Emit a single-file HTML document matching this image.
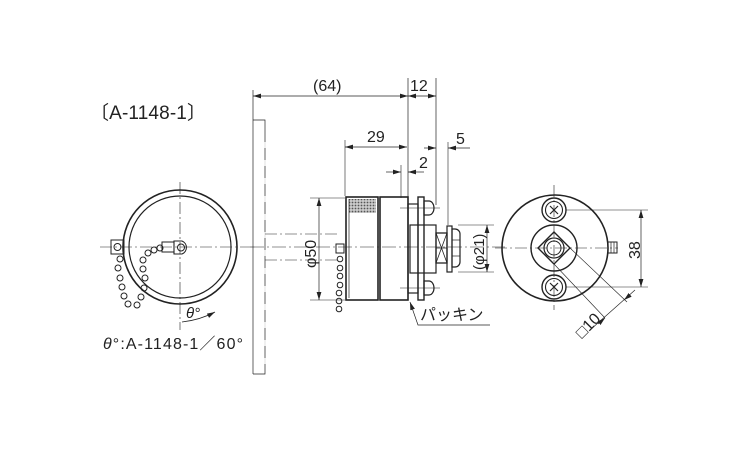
<!DOCTYPE html>
<html><head><meta charset="utf-8"><style>
html,body{margin:0;padding:0;background:#fff;}
svg{display:block;}
text{font-family:"Liberation Sans","Noto Sans CJK JP",sans-serif;fill:#222;}
</style></head><body>
<svg width="750" height="450" viewBox="0 0 750 450" xmlns="http://www.w3.org/2000/svg">
<defs>
<marker id="a" viewBox="0 0 10 6" refX="10" refY="3" markerWidth="8" markerHeight="5" orient="auto-start-reverse" markerUnits="userSpaceOnUse"><path d="M0,0L10,3L0,6z" fill="#222"/></marker>
<pattern id="dot" width="3" height="3" patternUnits="userSpaceOnUse"><rect width="3" height="3" fill="#ccc"/><circle cx="1.5" cy="1.5" r="0.9" fill="#555"/></pattern>
</defs>
<g stroke="#222" fill="none" stroke-width="1">
<text x="90" y="119" font-size="19" stroke="none" textLength="116">〔A-1148-1〕</text>

<!-- LEFT VIEW -->
<line x1="100" y1="247" x2="250" y2="247" stroke-width="0.6" stroke-dasharray="12 3 2 3"/>
<line x1="180" y1="182" x2="180" y2="330" stroke-width="0.6" stroke-dasharray="12 3 2 3"/>
<circle cx="180" cy="247" r="57" stroke-width="1.6"/>
<circle cx="180" cy="247" r="51" stroke-width="1.2"/>
<rect x="111" y="240" width="13" height="14" stroke-width="1"/>
<circle cx="117.5" cy="247" r="3.5"/>
<rect x="162" y="242" width="12" height="10"/>
<path d="M174,241 h8 a7,7 0 0 1 0,13 h-8z" stroke-width="1.1"/>
<circle cx="181" cy="247.5" r="3.5"/>
<g stroke-width="1">
<circle cx="120" cy="259" r="3"/><circle cx="118" cy="268" r="3"/><circle cx="120" cy="278" r="3"/><circle cx="122" cy="287" r="3"/><circle cx="124" cy="296" r="3"/><circle cx="128" cy="304" r="3"/><circle cx="137" cy="305" r="3"/><circle cx="141" cy="297" r="3"/><circle cx="144" cy="288" r="3"/><circle cx="145" cy="278" r="3"/><circle cx="143" cy="269" r="3"/><circle cx="143" cy="260" r="3"/><circle cx="148" cy="253" r="3"/><circle cx="154" cy="250" r="3"/><circle cx="160" cy="248" r="3"/>
</g>
<path d="M182,322 Q200,320 215,312" marker-end="url(#a)" stroke-width="0.8"/>
<text x="186" y="318" font-size="15" font-style="italic" stroke="none">θ°</text>
<text x="103" y="349" font-size="16" stroke="none" textLength="140"><tspan font-style="italic">θ</tspan>°:A-1148-1／60°</text>

<!-- WALL -->
<line x1="253" y1="90" x2="253" y2="374" stroke-width="0.7"/>
<polyline points="253,120 265,120 265,374 253,374" stroke-width="0.7"/>
<line x1="265" y1="130" x2="265" y2="370" stroke="#fff" stroke-width="0.8" stroke-dasharray="0 12 6 0"/>
<line x1="265" y1="234" x2="340" y2="234" stroke-width="0.6" stroke-dasharray="12 3 2 3"/>
<line x1="265" y1="260" x2="340" y2="260" stroke-width="0.6" stroke-dasharray="12 3 2 3"/>
<line x1="250" y1="247" x2="505" y2="247" stroke-width="0.6" stroke-dasharray="14 3 2 3"/>

<!-- dims top -->
<line x1="253" y1="96" x2="408" y2="96" stroke-width="0.7" marker-start="url(#a)" marker-end="url(#a)"/>
<line x1="408" y1="96" x2="436" y2="96" stroke-width="0.7" marker-start="url(#a)" marker-end="url(#a)"/>
<text x="313" y="91" font-size="16" stroke="none">(64)</text>
<text x="410" y="91" font-size="16" stroke="none">12</text>
<line x1="408" y1="78" x2="408" y2="300" stroke-width="0.7"/>
<line x1="436" y1="78" x2="436" y2="205" stroke-width="0.7"/>
<line x1="345" y1="140" x2="345" y2="196" stroke-width="0.6"/>
<line x1="345" y1="147" x2="407" y2="147" stroke-width="0.7" marker-start="url(#a)" marker-end="url(#a)"/>
<text x="367" y="142" font-size="16" stroke="none">29</text>
<line x1="401" y1="165" x2="401" y2="198" stroke-width="0.6"/>
<line x1="386" y1="172" x2="401" y2="172" stroke-width="0.7" marker-end="url(#a)"/>
<line x1="424" y1="172" x2="408" y2="172" stroke-width="0.7" marker-end="url(#a)"/>
<text x="419" y="168" font-size="16" stroke="none">2</text>
<line x1="448" y1="142" x2="448" y2="225" stroke-width="0.6"/>
<line x1="424" y1="148" x2="436" y2="148" stroke-width="0.7" marker-end="url(#a)"/>
<line x1="470" y1="148" x2="448" y2="148" stroke-width="0.7" marker-end="url(#a)"/>
<text x="456" y="144" font-size="16" stroke="none">5</text>

<!-- body -->
<rect x="346" y="197" width="32" height="103" stroke-width="1.6"/>
<rect x="349" y="199" width="27" height="14" fill="url(#dot)" stroke="none"/>
<line x1="349" y1="199" x2="349" y2="298" stroke-width="0.7"/>
<rect x="380" y="197" width="28" height="103" stroke-width="1.6"/>
<rect x="408" y="204" width="10" height="89" stroke-width="1.2"/>
<rect x="418" y="197" width="6" height="103" stroke-width="1.4"/>
<rect x="410" y="225" width="26" height="48" stroke-width="1.2"/>
<path d="M424,201 h5 a5,7 0 0 1 0,14 h-5z" stroke-width="1.2"/>
<path d="M424,281 h5 a5,7 0 0 1 0,14 h-5z" stroke-width="1.2"/>
<line x1="400" y1="208" x2="440" y2="208" stroke-width="0.6"/>
<line x1="400" y1="288" x2="440" y2="288" stroke-width="0.6"/>
<rect x="436" y="233" width="11" height="30" stroke-width="1.3"/>
<path d="M436,233 l11,30 M447,233 l-11,30 M436,248 h11" stroke-width="0.8"/>
<rect x="447" y="226" width="5" height="46" stroke-width="1.2"/>
<path d="M452,229 h3 a5,5 0 0 1 5,5 v28 a5,5 0 0 1 -5,5 h-3z" stroke-width="1.2"/>
<line x1="452" y1="240" x2="460" y2="240" stroke-width="0.7"/>
<line x1="452" y1="256" x2="460" y2="256" stroke-width="0.7"/>
<!-- chain side -->
<rect x="336" y="244" width="8" height="9"/>
<circle cx="340" cy="259" r="2.8"/><circle cx="340" cy="268" r="2.8"/><circle cx="340" cy="276" r="2.8"/><circle cx="340" cy="285" r="2.8"/><circle cx="339" cy="293" r="2.8"/><circle cx="339" cy="309" r="2.8"/><circle cx="339" cy="301" r="2.8"/>
<!-- phi50 -->
<line x1="310" y1="198" x2="345" y2="198" stroke-width="0.6"/>
<line x1="310" y1="300" x2="345" y2="300" stroke-width="0.6"/>
<line x1="319" y1="198" x2="319" y2="300" stroke-width="0.7" marker-start="url(#a)" marker-end="url(#a)"/>
<text transform="translate(316,268) rotate(-90)" font-size="16" stroke="none">φ50</text>
<!-- phi21 -->
<line x1="458" y1="225" x2="494" y2="225" stroke-width="0.6"/>
<line x1="458" y1="272" x2="494" y2="272" stroke-width="0.6"/>
<line x1="487" y1="225" x2="487" y2="272" stroke-width="0.7" marker-start="url(#a)" marker-end="url(#a)"/>
<text transform="translate(484,270) rotate(-90)" font-size="15" stroke="none">(φ21)</text>
<!-- packing leader -->
<polyline points="410,302 418,325 490,325" stroke-width="0.7" marker-start="url(#a)"/>
<text x="420" y="320" font-size="16" stroke="none">パッキン</text>

<!-- RIGHT VIEW -->
<line x1="495" y1="248" x2="618" y2="248" stroke-width="0.6" stroke-dasharray="12 3 2 3"/>
<line x1="554" y1="185" x2="554" y2="310" stroke-width="0.6" stroke-dasharray="12 3 2 3"/>
<circle cx="555" cy="248" r="53" stroke-width="1.6"/>
<circle cx="554" cy="248" r="23" stroke-width="1.4"/>
<circle cx="554" cy="210" r="12" stroke-width="1.4"/><circle cx="554" cy="210" r="8.5" stroke-width="1.1"/>
<circle cx="554" cy="287" r="12" stroke-width="1.4"/><circle cx="554" cy="287" r="8.5" stroke-width="1.1"/>
<path d="M550,206 l8,8 M558,206 l-8,8 M550,283 l8,8 M558,283 l-8,8" stroke-width="1.2"/>
<polygon points="554,232 570,248 554,264 538,248" stroke-width="1.4"/>
<circle cx="554" cy="248" r="10" stroke-width="1.2"/>
<circle cx="554" cy="248" r="7" stroke-width="1"/>
<rect x="608" y="242" width="9" height="11" stroke-width="1"/>
<path d="M611,242 v11 M614,242 v11" stroke-width="0.7"/>
<line x1="566" y1="210" x2="648" y2="210" stroke-width="0.6"/>
<line x1="566" y1="287" x2="648" y2="287" stroke-width="0.6"/>
<line x1="641" y1="210" x2="641" y2="287" stroke-width="0.7" marker-start="url(#a)" marker-end="url(#a)"/>
<text transform="translate(640,259) rotate(-90)" font-size="16" stroke="none">38</text>
<line x1="570" y1="248" x2="627" y2="302" stroke-width="0.6"/>
<line x1="554" y1="264" x2="605" y2="318" stroke-width="0.6"/>
<line x1="590" y1="330" x2="635" y2="290" stroke-width="0.7"/>
<line x1="605" y1="318" x2="598" y2="324" stroke-width="0.7" marker-start="url(#a)"/>
<line x1="624" y1="300" x2="630" y2="295" stroke-width="0.7" marker-start="url(#a)"/>
<text transform="translate(582,339) rotate(-45)" font-size="16" stroke="none">□10</text>
</g>
</svg>
</body></html>
